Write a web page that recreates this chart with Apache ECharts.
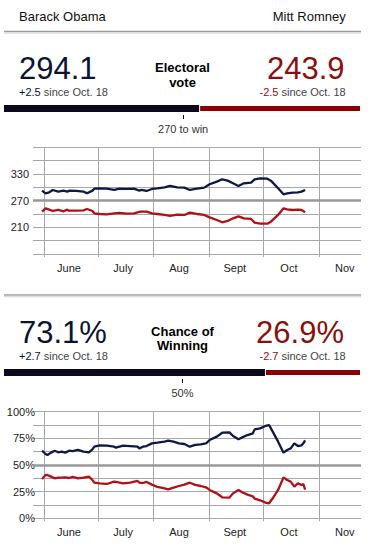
<!DOCTYPE html>
<html><head><meta charset="utf-8">
<script src="https://cdn.jsdelivr.net/npm/echarts@6/dist/echarts.min.js"></script>
<style>html,body{margin:0;padding:0;background:#fff}#c{width:370px;height:549px}</style>
</head><body><div id="c"></div>
<script>
// ---------- data ----------
const candidates = ['Barack Obama', 'Mitt Romney'];
const evNow = [294.1, 243.9];
const evChange = ['+2.5', '-2.5'];
const winNow = [73.1, 26.9];
const winChange = ['+2.7', '-2.7'];
const sinceText = 'since Oct. 18';
const evToWin = 270;
const winMid = 50;
const evTitle = ['Electoral', 'vote'];
const winTitle = ['Chance of', 'Winning'];

const monthStarts = ['2012-06-01','2012-07-01','2012-08-01','2012-09-01','2012-10-01','2012-11-01'];
const monthLabelDates = ['2012-06-15','2012-07-15','2012-08-15','2012-09-15','2012-10-15','2012-11-15'];
const monthLabels = ['June','July','Aug','Sept','Oct','Nov'];
const axisStart = '2012-05-26';
const axisEnd = '2012-11-24';

const evAxisLabels = [210, 270, 330];
const winAxisLabels = [0, 25, 50, 75, 100];

const evDates = ['2012-05-31','2012-06-02','2012-06-04','2012-06-06','2012-06-09','2012-06-12','2012-06-14','2012-06-15','2012-06-19','2012-06-23','2012-06-25','2012-06-28','2012-06-29','2012-07-02','2012-07-06','2012-07-10','2012-07-13','2012-07-17','2012-07-21','2012-07-24','2012-07-25','2012-07-28','2012-07-31','2012-08-03','2012-08-07','2012-08-10','2012-08-14','2012-08-18','2012-08-21','2012-08-25','2012-08-29','2012-09-01','2012-09-05','2012-09-08','2012-09-11','2012-09-14','2012-09-17','2012-09-20','2012-09-24','2012-09-26','2012-09-29','2012-10-03','2012-10-05','2012-10-09','2012-10-12','2012-10-14','2012-10-17','2012-10-20','2012-10-22','2012-10-24'];
const obamaEV = [292.5,286.5,288.8,294.0,290.3,292.5,290.3,292.5,291.8,290.3,286.5,292.5,297.0,297.8,297.0,294.0,297.0,296.3,297.0,292.5,294.0,291.8,296.3,297.8,300.0,303.0,300.0,299.3,294.0,297.0,299.3,306.8,312.8,318.0,315.0,309.0,303.0,309.0,310.5,318.0,320.3,319.5,315.0,297.8,284.3,286.5,288.0,288.8,290.3,294.1];
const romneyEV = [245.3,252.8,249.8,246.8,249.0,246.0,249.8,247.5,247.5,248.3,251.3,246.8,241.5,240.0,239.3,241.5,242.3,240.8,241.5,244.5,245.3,245.3,241.5,240.0,237.8,235.5,238.5,237.8,243.0,240.0,237.8,232.5,226.5,221.3,224.3,230.3,234.8,230.3,228.8,220.5,218.3,218.3,222.8,237.8,252.8,250.5,249.0,249.8,249.0,243.9];

const winDates = ['2012-05-31','2012-06-02','2012-06-03','2012-06-05','2012-06-07','2012-06-09','2012-06-11','2012-06-13','2012-06-15','2012-06-17','2012-06-20','2012-06-23','2012-06-26','2012-06-28','2012-06-29','2012-07-02','2012-07-06','2012-07-10','2012-07-11','2012-07-15','2012-07-19','2012-07-23','2012-07-24','2012-07-26','2012-07-28','2012-07-31','2012-08-03','2012-08-07','2012-08-09','2012-08-12','2012-08-15','2012-08-18','2012-08-21','2012-08-24','2012-08-27','2012-08-30','2012-09-01','2012-09-05','2012-09-08','2012-09-12','2012-09-14','2012-09-17','2012-09-19','2012-09-22','2012-09-25','2012-09-26','2012-09-29','2012-10-02','2012-10-04','2012-10-06','2012-10-09','2012-10-12','2012-10-14','2012-10-16','2012-10-18','2012-10-20','2012-10-22','2012-10-23','2012-10-24'];
const obamaWin = [63.4,60.3,59.4,61.6,63.4,61.9,62.5,61.6,63.4,63.1,64.1,62.5,61.9,64.7,67.2,68.4,68.1,67.2,66.3,68.1,67.8,67.2,65.6,67.2,67.8,70.3,70.9,71.9,72.8,71.9,70.3,69.7,67.2,68.8,69.4,70.3,73.4,76.6,80.3,80.6,77.2,74.1,75.9,78.1,79.7,83.4,84.4,86.6,87.5,81.3,71.9,61.6,64.1,65.6,70.3,67.8,68.4,70.3,73.1];
const romneyWin = [36.9,40.6,40.6,39.1,37.5,38.1,38.1,38.4,37.8,38.8,37.5,38.1,39.1,35.9,33.4,32.8,32.2,34.4,34.1,32.8,33.4,35.0,33.4,33.1,34.1,31.6,29.4,28.1,27.2,28.8,30.3,31.6,33.4,31.3,30.3,29.1,26.6,23.4,19.7,19.4,23.4,26.6,24.4,22.2,20.6,18.4,16.9,14.7,14.1,18.8,26.6,38.4,35.9,34.4,29.7,32.8,31.3,32.2,26.9];

// ---------- styles ----------
const FONT = '"Liberation Sans", Arial, sans-serif';
const NAVY_TXT = '#0c1232';
const RED_TXT = '#8b0e0e';
const NAVY_LINE = '#0d1a45';
const RED_LINE = '#b01018';
const NAVY_BAR = '#0a0a1c';
const RED_BAR = '#8b0000';
const GRID_C = '#a8a8a8';
const TXT_C = '#222';

const toTs = s => { const p = s.split('-').map(Number); return Date.UTC(p[0], p[1] - 1, p[2]); };
const monthTs = monthStarts.map(toTs);
const labelTs = monthLabelDates.map(toTs);

function dateAxis(gridIndex) {
  return {
    type: 'value', gridIndex, min: toTs(axisStart), max: toTs(axisEnd),
    axisLine: { show: false },
    axisTick: { show: true, customValues: monthTs, length: 3, lineStyle: { color: GRID_C } },
    splitLine: { show: true, lineStyle: { color: GRID_C, width: 1 } },
    axisLabel: {
      customValues: labelTs, color: TXT_C, fontSize: 11, fontFamily: FONT, margin: 8,
      showMinLabel: true, showMaxLabel: true, hideOverlap: false,
      formatter: v => { const i = labelTs.indexOf(v); return i >= 0 ? monthLabels[i] : ''; }
    }
  };
}
function barAxis(gridIndex, total, mark, text) {
  return {
    type: 'value', gridIndex, min: 0, max: total, offset: 3,
    axisLine: { show: false }, splitLine: { show: false },
    axisTick: { show: true, customValues: [mark], length: 4, lineStyle: { color: '#000' } },
    axisLabel: { customValues: [mark], formatter: () => text, color: '#333', fontSize: 11, fontFamily: FONT, margin: 8 }
  };
}
function lineSeries(x, y, dates, vals, color, mark) {
  const s = {
    type: 'line', xAxisIndex: x, yAxisIndex: y, showSymbol: false, silent: true,
    data: dates.map((d, i) => [toTs(d), vals[i]]),
    lineStyle: { color, width: 2.3 }, itemStyle: { color }, z: 3
  };
  if (mark !== undefined) {
    s.markLine = { silent: true, symbol: 'none', label: { show: false }, z: 2,
      lineStyle: { color: '#999', width: 2.5, type: 'solid' }, data: [{ yAxis: mark }] };
  }
  return s;
}
function barSeries(x, y, val, color, stack, border) {
  return {
    type: 'bar', xAxisIndex: x, yAxisIndex: y, stack, silent: true, barWidth: 7,
    data: [val], itemStyle: border ? { color, borderColor: '#fff', borderWidth: 1 } : { color }
  };
}
function txt(x, y, text, font, fill, align, lineHeight) {
  const st = { text, font, fill, align, verticalAlign: 'middle' };
  if (lineHeight) st.lineHeight = lineHeight;
  return { type: 'text', x, y, silent: true, style: st };
}
function richTxt(x, y, change, color, align) {
  return { type: 'text', x, y, silent: true, style: {
    text: '{a|' + change + '} {b|' + sinceText + '}', align, verticalAlign: 'middle',
    fontSize: 11, fontFamily: FONT, lineHeight: 10,
    rich: { a: { fontSize: 11, fontFamily: FONT, fill: color, lineHeight: 10 },
            b: { fontSize: 11, fontFamily: FONT, fill: '#444', lineHeight: 10 } } } };
}
function sep(y) {
  return [
    { type: 'line', silent: true, shape: { x1: 4, y1: y, x2: 361, y2: y }, style: { stroke: '#9a9a9a', lineWidth: 1.5 } },
    { type: 'line', silent: true, shape: { x1: 4, y1: y + 1.5, x2: 361, y2: y + 1.5 }, style: { stroke: '#dcdcdc', lineWidth: 1.5 } }
  ];
}

const bigFont = '31px ' + FONT;
const nameFont = '13px ' + FONT;
const boldFont = 'bold 13px ' + FONT;

const option = {
  animation: false,
  backgroundColor: '#fff',
  grid: [
    { left: 33, right: 9, top: 147.3, height: 106.7 },
    { left: 4, right: 9, top: 105, height: 7 },
    { left: 4, right: 9, top: 369, height: 7 },
    { left: 33, right: 9, top: 411.7, height: 106.6 }
  ],
  xAxis: [
    dateAxis(0),
    barAxis(1, evNow[0] + evNow[1], evToWin, evToWin + ' to win'),
    barAxis(2, winNow[0] + winNow[1], winMid, winMid + '%'),
    dateAxis(3)
  ],
  yAxis: [
    { type: 'value', gridIndex: 0, min: 150, max: 390, interval: 30,
      axisLine: { show: false }, axisTick: { show: false },
      splitLine: { lineStyle: { color: GRID_C, width: 1 } },
      axisLabel: { color: TXT_C, fontSize: 11, fontFamily: FONT, margin: 4,
        formatter: v => evAxisLabels.indexOf(v) >= 0 ? String(v) : '' } },
    { type: 'category', gridIndex: 1, data: ['ev'], show: false },
    { type: 'category', gridIndex: 2, data: ['win'], show: false },
    { type: 'value', gridIndex: 3, min: 0, max: 100, interval: 12.5,
      axisLine: { show: false }, axisTick: { show: false },
      splitLine: { lineStyle: { color: GRID_C, width: 1 } },
      axisLabel: { color: TXT_C, fontSize: 11, fontFamily: FONT, margin: -2,
        formatter: v => winAxisLabels.indexOf(v) >= 0 ? v + '%' : '' } }
  ],
  series: [
    lineSeries(0, 0, evDates, obamaEV, NAVY_LINE, evToWin),
    lineSeries(0, 0, evDates, romneyEV, RED_LINE),
    barSeries(1, 1, evNow[0], NAVY_BAR, 'ev'),
    barSeries(1, 1, evNow[1], RED_BAR, 'ev', true),
    barSeries(2, 2, winNow[0], NAVY_BAR, 'win'),
    barSeries(2, 2, winNow[1], RED_BAR, 'win', true),
    lineSeries(3, 3, winDates, obamaWin, NAVY_LINE, winMid),
    lineSeries(3, 3, winDates, romneyWin, RED_LINE)
  ],
  graphic: [
    txt(19, 16.2, candidates[0], nameFont, '#111', 'left'),
    txt(345.7, 16.2, candidates[1], nameFont, '#111', 'right'),
    ...sep(31.5),
    txt(19, 68.8, String(evNow[0]), bigFont, NAVY_TXT, 'left', 24),
    txt(344.5, 68.8, String(evNow[1]), bigFont, RED_TXT, 'right', 24),
    richTxt(19, 92, evChange[0], NAVY_TXT, 'left'),
    richTxt(345.7, 92, evChange[1], RED_TXT, 'right'),
    txt(182.5, 74.8, evTitle.join('\n'), boldFont, '#000', 'center', 14.6),
    ...sep(295),
    txt(19, 332.2, winNow[0] + '%', bigFont, NAVY_TXT, 'left', 24),
    txt(344, 332.2, winNow[1] + '%', bigFont, RED_TXT, 'right', 24),
    richTxt(19, 355.5, winChange[0], NAVY_TXT, 'left'),
    richTxt(345.7, 355.5, winChange[1], RED_TXT, 'right'),
    txt(182.5, 338.6, winTitle.join('\n'), boldFont, '#000', 'center', 14.6)
  ]
};

const chart = echarts.init(document.getElementById('c'), null, { renderer: 'svg' });
chart.setOption(option);
</script>
</body></html>
